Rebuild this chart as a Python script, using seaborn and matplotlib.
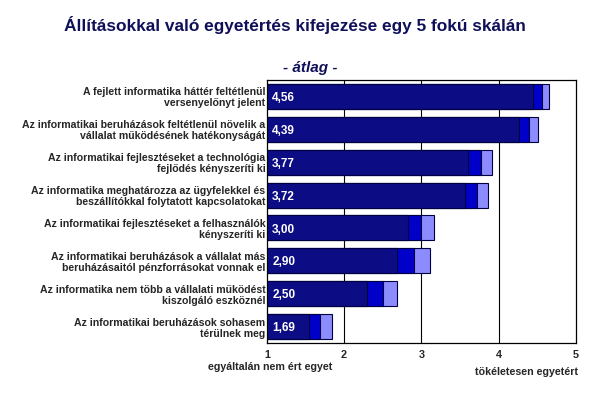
import matplotlib
matplotlib.use("Agg")
import matplotlib.pyplot as plt
import seaborn as sns
import pandas as pd

categories = [
    "A fejlett informatika háttér feltétlenül\nversenyelőnyt jelent",
    "Az informatikai beruházások feltétlenül növelik a\nvállalat működésének hatékonyságát",
    "Az informatikai fejlesztéseket a technológia\nfejlődés kényszeríti ki",
    "Az informatika meghatározza az ügyfelekkel és\nbeszállítókkal folytatott kapcsolatokat",
    "Az informatikai fejlesztéseket a felhasználók\nkényszeríti ki",
    "Az informatikai beruházások a vállalat más\nberuházásaitól pénzforrásokat vonnak el",
    "Az informatika nem több a vállalati működést\nkiszolgáló eszköznél",
    "Az informatikai beruházások sohasem\ntérülnek meg",
]
means = [4.56, 4.39, 3.77, 3.72, 3.00, 2.90, 2.50, 1.69]
lower = [4.44, 4.26, 3.60, 3.56, 2.83, 2.69, 2.30, 1.55]
upper = [4.65, 4.51, 3.91, 3.86, 3.16, 3.11, 2.69, 1.84]
value_labels = ["4,56", "4,39", "3,77", "3,72", "3,00", "2,90", "2,50", "1,69"]
xticks = [1, 2, 3, 4, 5]

df = pd.DataFrame({"cat": categories, "mean": means, "lower": lower, "upper": upper})

sns.set_theme(style="white")
plt.rcParams["font.family"] = ["Liberation Sans", "DejaVu Sans"]

fig = plt.figure(figsize=(5.93, 3.94), dpi=100)
ax = fig.add_axes([0.450, 0.1294, 0.521, 0.6676])

navy = "#0c0c84"
blue = "#0000c8"
light = "#8c8cff"
bw = 0.76
sns.barplot(data=df, y="cat", x="upper", color=light, saturation=1, width=bw,
            edgecolor="#000040", linewidth=0.8, ax=ax, orient="h")
sns.barplot(data=df, y="cat", x="mean", color=blue, saturation=1, width=bw,
            edgecolor="#000040", linewidth=0.8, ax=ax, orient="h")
sns.barplot(data=df, y="cat", x="lower", color=navy, saturation=1, width=bw,
            edgecolor="#000040", linewidth=0.8, ax=ax, orient="h")

ax.set_xlim(1, 5)
ax.set_ylim(len(categories) - 0.5, -0.5)
ax.set_xticks(xticks)
ax.set_xticklabels([str(t) for t in xticks], fontsize=7.8, fontweight="bold")
ax.tick_params(axis="x", length=0, pad=5)
ax.tick_params(axis="y", length=0, pad=1)
ax.set_yticklabels(categories, fontsize=7.6, fontweight="bold", ha="right",
                   linespacing=1.12)
ax.set_xlabel("")
ax.set_ylabel("")
for x in xticks[1:-1]:
    ax.axvline(x, color="black", linewidth=0.8, zorder=0)
for s in ax.spines.values():
    s.set_color("black")
    s.set_linewidth(0.9)
    s.set_visible(True)

for i, lab in enumerate(value_labels):
    ax.text(1.07, i + 0.05, lab, color="white", fontsize=8.5, fontweight="bold",
            va="center", ha="left")

title_color = "#10105a"
fig.text(0.497, 0.936, "Állításokkal való egyetértés kifejezése egy 5 fokú skálán",
         ha="center", va="center", fontsize=12.4, fontweight="bold", color=title_color)
fig.text(0.523, 0.828, "- átlag -", ha="center", va="center", fontsize=11,
         fontweight="bold", fontstyle="italic", color=title_color)
fig.text(0.455, 0.068, "egyáltalán nem ért egyet", ha="center", va="center",
         fontsize=7.7, fontweight="bold")
fig.text(0.975, 0.055, "tökéletesen egyetért", ha="right", va="center",
         fontsize=7.7, fontweight="bold")

fig.savefig("out.png", dpi=100)
